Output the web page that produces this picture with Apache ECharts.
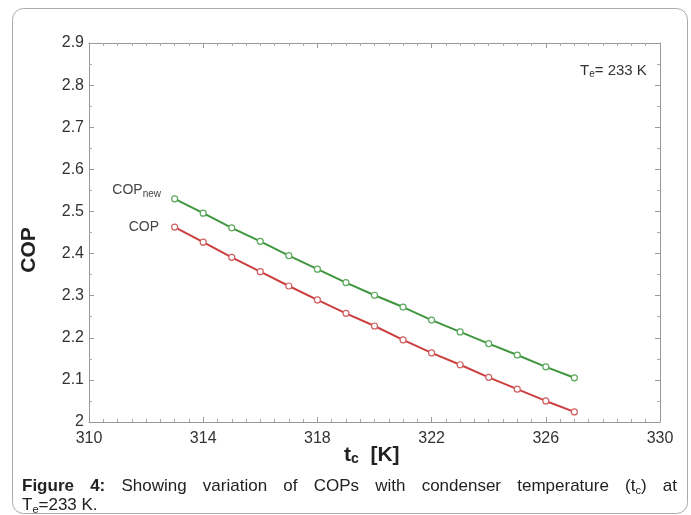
<!DOCTYPE html>
<html><head><meta charset="utf-8">
<script src="https://cdn.jsdelivr.net/npm/echarts@6/dist/echarts.min.js"></script>
<style>html,body{margin:0;padding:0;background:#fff}#c{width:691px;height:515px}</style>
</head><body><div id="c"></div>
<script>
const tc = [313,314,315,316,317,318,319,320,321,322,323,324,325,326,327];
const copNew = [2.530,2.496,2.461,2.429,2.395,2.363,2.331,2.301,2.273,2.242,2.214,2.186,2.159,2.131,2.105];
const cop = [2.463,2.427,2.391,2.357,2.323,2.290,2.258,2.228,2.195,2.164,2.136,2.106,2.078,2.050,2.024];
const xTicks = {min:310, max:330, interval:4};
const yTicks = {min:2, max:2.9, interval:0.1};

const FF = 'Liberation Sans, Arial, sans-serif';
const chart = echarts.init(document.getElementById('c'));

function mkData(vals, label) {
  return tc.map((x,i) => {
    const d = {value:[x, vals[i]]};
    if (i === 0) d.label = label;
    return d;
  });
}

const axisBase = {
  type:'value', splitLine:{show:false},
  axisLine:{show:true, lineStyle:{color:'#999', width:1}},
  axisTick:{show:true, inside:true, length:5, lineStyle:{color:'#999'}},
  minorTick:{show:true, length:3, lineStyle:{color:'#aaa'}},
  axisLabel:{color:'#333', fontSize:16, fontFamily:FF}
};

// caption justified layout
const cv = document.createElement('canvas').getContext('2d');
function tw(t, font){cv.font = font; return cv.measureText(t).width;}
const capSize = 17, subSize = 11;
const fN = capSize + 'px ' + FF, fB = 'bold ' + capSize + 'px ' + FF;
const words = [
  {t:'Figure', b:true}, {t:'4:', b:true}, {t:'Showing'}, {t:'variation'}, {t:'of'},
  {t:'COPs'}, {t:'with'}, {t:'condenser'}, {t:'temperature'}, {t:'(t', sub:'c', after:')'}, {t:'at'}
];
words.forEach(w => {
  if (w.sub) w.w = tw(w.t, fN) + tw(w.sub, subSize+'px '+FF) + tw(w.after, fN);
  else w.w = tw(w.t, w.b ? fB : fN);
});
const x0 = 22, x1 = 677;
const sumW = words.reduce((a,w)=>a+w.w,0);
const gap = (x1 - x0 - sumW) / (words.length - 1);
const capEls = [];
let cx = x0;
words.forEach(w => {
  let el;
  if (w.sub) {
    el = {type:'text', left:cx, top:478, style:{
      text:w.t + '{s|' + w.sub + '}' + w.after,
      font:fN, fill:'#222',
      rich:{s:{fontSize:subSize, fontFamily:FF, fill:'#222', verticalAlign:'bottom', padding:[8,0,0,0]}}
    }};
  } else {
    el = {type:'text', left:cx, top:478, style:{text:w.t, font:w.b?fB:fN, fill:'#222'}};
  }
  capEls.push(el);
  cx += w.w + gap;
});
capEls.push({type:'text', left:22, top:497, style:{
  text:'T{s|e}=233 K.', font:fN, fill:'#222',
  rich:{s:{fontSize:subSize, fontFamily:FF, fill:'#222', padding:[8,0,0,0]}}
}});

chart.setOption({
  animation:false,
  backgroundColor:'#fff',
  grid:{left:89, right:31, top:43, bottom:93},
  xAxis:[
    Object.assign({}, axisBase, {position:'bottom', min:xTicks.min, max:xTicks.max, interval:xTicks.interval,
      minorTick:Object.assign({}, axisBase.minorTick, {splitNumber:8}),
      axisLabel:Object.assign({}, axisBase.axisLabel, {margin:9})}),
    Object.assign({}, axisBase, {position:'top', min:xTicks.min, max:xTicks.max, interval:xTicks.interval,
      minorTick:Object.assign({}, axisBase.minorTick, {splitNumber:8}),
      axisLabel:{show:false}})
  ],
  yAxis:[
    Object.assign({}, axisBase, {position:'left', min:yTicks.min, max:yTicks.max, interval:yTicks.interval,
      minorTick:Object.assign({}, axisBase.minorTick, {splitNumber:2}),
      axisLabel:Object.assign({}, axisBase.axisLabel, {margin:5})}),
    Object.assign({}, axisBase, {position:'right', min:yTicks.min, max:yTicks.max, interval:yTicks.interval,
      minorTick:Object.assign({}, axisBase.minorTick, {splitNumber:2}),
      axisLabel:{show:false}})
  ],
  series:[
    {type:'line', name:'COPnew', xAxisIndex:0, yAxisIndex:0,
      data:mkData(copNew, {show:true, position:'left', distance:10, offset:[0,-9],
        formatter:'COP{s|new}', color:'#444', fontSize:14, fontFamily:FF,
        rich:{s:{fontSize:10, fontFamily:FF, color:'#444', padding:[9,0,0,0]}}}),
      symbol:'circle', symbolSize:6, showAllSymbol:true,
      lineStyle:{color:'#3f963f', width:2},
      itemStyle:{color:'#fff', borderColor:'#5aa85a', borderWidth:1.2},
      label:{show:false}, z:3},
    {type:'line', name:'COP', xAxisIndex:0, yAxisIndex:0,
      data:mkData(cop, {show:true, position:'left', distance:12,
        formatter:'COP', color:'#444', fontSize:14, fontFamily:FF}),
      symbol:'circle', symbolSize:6, showAllSymbol:true,
      lineStyle:{color:'#cc3f3f', width:2},
      itemStyle:{color:'#fff', borderColor:'#d06060', borderWidth:1.2},
      label:{show:false}, z:3}
  ],
  graphic:[
    {type:'rect', shape:{x:12.5, y:8.5, width:675, height:505, r:11},
      style:{fill:'none', stroke:'#aaa', lineWidth:1}, z:-1},
    {type:'text', left:580, top:63, style:{
      text:'T{s|e}= 233 K', font:'15px '+FF, fill:'#333',
      rich:{s:{fontSize:10, fontFamily:FF, fill:'#333', padding:[8,0,0,0]}}}},
    {type:'text', x:29, y:250, rotation:Math.PI/2, style:{
      text:'COP', font:'bold 21px '+FF, fill:'#222', align:'center', verticalAlign:'middle'}},
    {type:'text', left:344, top:445, style:{
      text:'t{s|c}  [K]', font:'bold 21px '+FF, fill:'#222',
      rich:{s:{fontSize:14, fontWeight:'bold', fontFamily:FF, fill:'#222', padding:[8,0,0,0]}}}}
  ].concat(capEls)
});
</script></body></html>
